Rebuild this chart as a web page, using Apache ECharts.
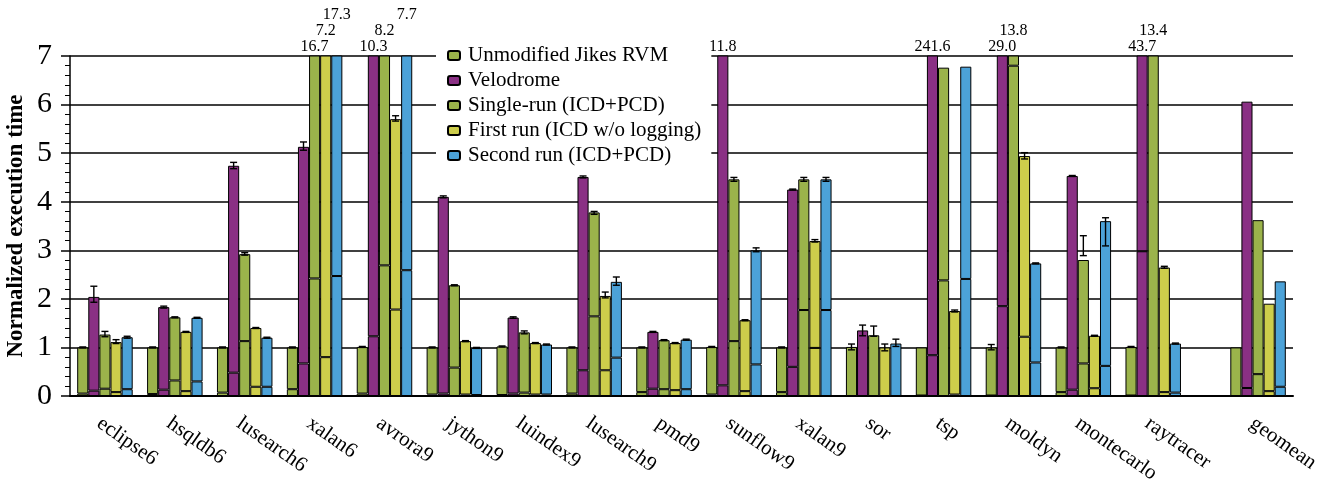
<!DOCTYPE html>
<html><head><meta charset="utf-8">
<script src="https://cdn.jsdelivr.net/npm/echarts@6/dist/echarts.min.js"></script>
<style>html,body{margin:0;padding:0;background:#fff}#c{width:1329px;height:480px}</style>
</head><body><div id="c"></div>
<script>
// ---------------- data ----------------
const benchmarks = ['eclipse6','hsqldb6','lusearch6','xalan6','avrora9','jython9','luindex9','lusearch9','pmd9','sunflow9','xalan9','sor','tsp','moldyn','montecarlo','raytracer','geomean'];
const seriesNames = ['Unmodified Jikes RVM','Velodrome','Single-run (ICD+PCD)','First run (ICD w/o logging)','Second run (ICD+PCD)'];

// total normalized execution time per bar
const unmodTotal  = [1.00, 1.00, 1.00, 1.00, 1.01, 1.00, 1.02, 1.00, 1.00, 1.01, 1.00, 1.01, 1.00, 1.00, 1.00, 1.01, 1.00];
const veloTotal   = [2.04, 1.83, 4.74, 5.13, 10.3, 4.10, 1.615, 4.51, 1.32, 11.8, 4.25, 1.35, 241.6, 29.0, 4.53, 43.7, 6.06];
const singleTotal = [1.265, 1.62, 2.92, 16.7, 8.2, 2.28, 1.31, 3.78, 1.15, 4.46, 4.46, 1.25, 6.76, 13.8, 2.80, 13.4, 3.62];
const firstTotal  = [1.11, 1.32, 1.40, 7.2, 5.70, 1.13, 1.09, 2.06, 1.09, 1.56, 3.19, 1.00, 1.75, 4.94, 1.24, 2.645, 1.90];
const secondTotal = [1.21, 1.61, 1.20, 17.3, 7.7, 0.99, 1.06, 2.35, 1.16, 3.00, 4.46, 1.08, 6.78, 2.73, 3.60, 1.08, 2.36];

// lower (inner) segment of each bar
const unmodLower  = [0.05, 0.04, 0.07, 0.14, 0.05, 0.03, 0.02, 0.05, 0.08, 0.03, 0.08, 0.00, 0.01, 0.01, 0.08, 0.01, 0.00];
const veloLower   = [0.11, 0.13, 0.48, 0.67, 1.23, 0.05, 0.05, 0.53, 0.15, 0.22, 0.60, 0.00, 0.84, 1.85, 0.13, 2.98, 0.165];
const singleLower = [0.15, 0.32, 1.13, 2.42, 2.69, 0.585, 0.07, 1.64, 0.14, 1.13, 1.77, 0.00, 2.38, 6.80, 0.67, 0.00, 0.45];
const firstLower  = [0.08, 0.10, 0.19, 0.80, 1.78, 0.03, 0.03, 0.53, 0.12, 0.10, 0.99, 0.00, 0.03, 1.22, 0.16, 0.08, 0.10];
const secondLower = [0.14, 0.30, 0.19, 2.47, 2.59, 0.02, 0.03, 0.79, 0.14, 0.65, 1.77, 0.00, 2.41, 0.69, 0.62, 0.07, 0.19];

// error bars [low, high] (null = none)
const unmodErr  = [[0.99,1.01],[0.99,1.01],[0.99,1.01],[0.99,1.01],[1.0,1.02],[0.99,1.01],[1.01,1.03],[0.99,1.01],[0.99,1.01],[1.0,1.02],[0.99,1.01],[0.95,1.07],null,[0.95,1.06],[0.99,1.01],[1.0,1.02],null];
const veloErr   = [[1.93,2.26],[1.81,1.85],[4.68,4.81],[5.06,5.23],null,[4.08,4.12],[1.60,1.63],[4.49,4.53],[1.31,1.33],null,[4.24,4.26],[1.24,1.46],null,null,[4.52,4.54],null,null];
const singleErr = [[1.22,1.33],[1.61,1.63],[2.90,2.95],null,null,[2.27,2.29],[1.28,1.34],[3.74,3.80],[1.14,1.16],[4.42,4.50],[4.42,4.50],[1.23,1.44],null,null,[2.89,3.30],null,null];
const firstErr  = [[1.08,1.16],[1.31,1.33],[1.39,1.41],null,[5.66,5.77],[1.12,1.14],[1.08,1.10],[2.02,2.14],[1.08,1.10],[1.55,1.57],[3.17,3.22],[0.93,1.07],[1.73,1.77],[4.88,5.01],[1.23,1.25],[2.63,2.67],null];
const secondErr = [[1.19,1.23],[1.60,1.62],[1.19,1.21],null,null,[0.98,1.00],[1.05,1.07],[2.28,2.45],[1.15,1.17],[2.97,3.05],[4.42,4.50],[1.02,1.17],null,[2.72,2.74],[3.09,3.67],[1.07,1.09],null];

const yTicks = [0,1,2,3,4,5,6,7];

// ---------------- style / layout ----------------
const colors = ['#9bb34b','#8a3084','#9bb34b','#cdcd4b','#4ca2d8'];
const totals = [unmodTotal, veloTotal, singleTotal, firstTotal, secondTotal];
const lowers = [unmodLower, veloLower, singleLower, firstLower, secondLower];
const errs   = [unmodErr, veloErr, singleErr, firstErr, secondErr];
const Y_MAX = yTicks[yTicks.length-1];
const BAR_W = 11.1;
const SERIF = '"Liberation Serif", "DejaVu Serif", serif';

// category slots: benchmark groups every two slots, geomean after a wider gap
const SLOT_COUNT = 36;
const slotOf = benchmarks.map((b,i) => i < benchmarks.length-1 ? 1 + 2*i : 34);
const categories = Array(SLOT_COUNT).fill('');
benchmarks.forEach((b,i) => { categories[slotOf[i]] = b; });

// label rows for bars exceeding the axis
const rowOf = totals.map(() => Array(benchmarks.length).fill(0));
benchmarks.forEach((b,i) => {
  let r = 0;
  for (let k = 0; k < 5; k++) if (totals[k][i] > Y_MAX) { rowOf[k][i] = r; r++; }
});

const series = [];
for (let k = 0; k < 5; k++) {
  const lowerData = Array(SLOT_COUNT).fill('-');
  const upperData = Array(SLOT_COUNT).fill('-');
  benchmarks.forEach((b,i) => {
    const s = slotOf[i];
    lowerData[s] = lowers[k][i];
    const up = +(totals[k][i] - lowers[k][i]).toFixed(4);
    if (totals[k][i] > Y_MAX) {
      upperData[s] = { value: up, label: { show: true, formatter: totals[k][i].toFixed(1), offset: [0, -16 * rowOf[k][i]] } };
    } else {
      upperData[s] = up;
    }
  });
  const common = {
    type: 'bar', name: seriesNames[k], stack: 'st' + k, barWidth: BAR_W, barGap: '0%',
    clip: true,
    itemStyle: { color: colors[k], borderColor: '#000', borderWidth: 1 },
    emphasis: { disabled: true }
  };
  series.push(Object.assign({}, common, { data: lowerData }));
  series.push(Object.assign({}, common, {
    data: upperData,
    label: { show: false, position: 'top', distance: 1, color: '#000', fontFamily: SERIF, fontSize: 16 }
  }));
  // error bars
  const errData = [];
  benchmarks.forEach((b,i) => { if (errs[k][i]) errData.push([slotOf[i], errs[k][i][0], errs[k][i][1]]); });
  series.push({
    type: 'custom', name: 'err' + k, z: 5, silent: true,
    encode: { x: 0, y: [1, 2] },
    data: errData,
    renderItem: (function(kk){ return function(params, api){
      const x = api.value(0);
      const pHi = api.coord([x, api.value(2)]);
      const pLo = api.coord([x, api.value(1)]);
      const cx = pHi[0] + (kk - 2) * BAR_W;
      const cap = 3.5;
      const st = { stroke: '#000', lineWidth: 1.4 };
      return { type: 'group', children: [
        { type: 'line', shape: { x1: cx, y1: pHi[1], x2: cx, y2: pLo[1] }, style: st },
        { type: 'line', shape: { x1: cx-cap, y1: pHi[1], x2: cx+cap, y2: pHi[1] }, style: st },
        { type: 'line', shape: { x1: cx-cap, y1: pLo[1], x2: cx+cap, y2: pLo[1] }, style: st }
      ]};
    }; })(k)
  });
}

const chart = echarts.init(document.getElementById('c'), null, { renderer: 'canvas' });
chart.setOption({
  animation: false,
  backgroundColor: '#fff',
  grid: { left: 70, right: 36, top: 56, bottom: 84, containLabel: false, outerBoundsMode: 'none' },
  legend: {
    data: seriesNames,
    orient: 'vertical',
    left: 436, top: 42,
    padding: [3, 10, 4, 11],
    backgroundColor: '#fff',
    itemWidth: 12, itemHeight: 9, itemGap: 4,
    selectedMode: false,
    textStyle: { fontFamily: SERIF, fontSize: 21, color: '#000', padding: [0,0,0,3] }
  },
  xAxis: {
    type: 'category', data: categories, boundaryGap: false,
    axisLine: { lineStyle: { color: '#000', width: 2 } },
    axisTick: { show: false },
    axisLabel: { interval: 0, rotate: -35, margin: 17, verticalAlign: 'top', fontFamily: SERIF, fontSize: 21, color: '#000' },
    splitLine: { show: false }
  },
  yAxis: {
    type: 'value', min: yTicks[0], max: Y_MAX, interval: 1,
    name: 'Normalized execution time', nameLocation: 'middle', nameGap: 42, nameRotate: 90,
    nameMoveOverlap: false,
    nameTextStyle: { fontFamily: SERIF, fontSize: 23, fontWeight: 'bold', color: '#000' },
    axisLine: { show: true, lineStyle: { color: '#000', width: 1.5 } },
    axisTick: { show: true, length: 9, lineStyle: { color: '#000', width: 1.5 } },
    minorTick: { show: true, splitNumber: 5, length: 5, lineStyle: { color: '#000', width: 1 } },
    axisLabel: { margin: 18, fontFamily: SERIF, fontSize: 30, color: '#000' },
    splitLine: { show: true, lineStyle: { color: '#000', width: 1.6 } }
  },
  series: series
});
</script>
</body></html>
